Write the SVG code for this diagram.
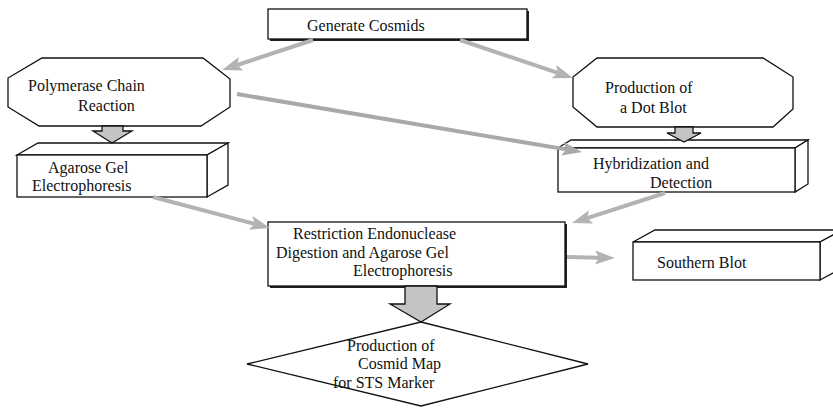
<svg xmlns="http://www.w3.org/2000/svg" width="833" height="408" viewBox="0 0 833 408">
<style>
.s{fill:#fff;stroke:#111;stroke-width:1.3;stroke-linejoin:miter}
.b{fill:#c4c4c4;stroke:#111;stroke-width:1.3}
.l{stroke:#b3b3b3;stroke-width:4;fill:none}
.hd{fill:#b3b3b3;stroke:none}
</style>
<rect width="833" height="408" fill="#fff"/>
<g font-family="Liberation Serif, Times New Roman, DejaVu Serif, serif" font-size="16" fill="#111">
<g id="generate">
<rect x="270" y="11" width="259" height="30" fill="#222"/>
<rect class="s" x="268" y="9" width="259" height="30"/>
<text x="307" y="31">Generate Cosmids</text>
</g>
<g id="pcr">
<polygon class="s" points="42,58 203,58 230,79 230,107 201,126 39,126 8,107 8,78"/>
<text x="28" y="91">Polymerase Chain</text>
<text x="78" y="111">Reaction</text>
</g>
<g id="dotblot">
<polygon class="s" points="597,58 763,58 793,77 793,109 773,127 597,127 573,107 573,77"/>
<text x="605" y="93">Production of</text>
<text x="620" y="113">a Dot Blot</text>
</g>
<g id="agarose">
<polygon class="s" points="17,155 38,143 228,143 207,155"/>
<polygon class="s" points="207,155 228,143 228,185 207,197"/>
<rect class="s" x="17" y="155" width="190" height="42"/>
<text x="48" y="173">Agarose Gel</text>
<text x="32" y="191">Electrophoresis</text>
</g>
<g id="hybridization">
<polygon class="s" points="558,148 571,140 808,140 795,148"/>
<polygon class="s" points="795,148 808,140 808,184 795,192"/>
<rect class="s" x="558" y="148" width="237" height="44"/>
<text x="593" y="169">Hybridization and</text>
<text x="650" y="188">Detection</text>
</g>
<g id="restriction">
<rect x="270" y="224" width="297" height="64" fill="#222"/>
<rect class="s" x="268" y="222" width="297" height="64"/>
<text x="293" y="239">Restriction Endonuclease</text>
<text x="276" y="258">Digestion and Agarose Gel</text>
<text x="353" y="276">Electrophoresis</text>
</g>
<g id="southern">
<polygon class="s" points="633,242 655,230 842,230 820,242"/>
<polygon class="s" points="820,242 842,230 842,268 820,280"/>
<rect class="s" x="633" y="242" width="187" height="38"/>
<text x="657" y="268">Southern Blot</text>
</g>
<g id="cosmidmap">
<polygon class="s" points="421,322 588,364 421,406 247,364"/>
<text x="347" y="351">Production of</text>
<text x="358" y="369">Cosmid Map</text>
<text x="333" y="388">for STS Marker</text>
</g>
</g>
<g id="connectors">
<line class="l" x1="313" y1="40" x2="237.2" y2="65"/>
<polygon class="hd" points="222,70 238.8,57.1 237.2,65 243.2,70.4"/>
<line class="l" x1="460" y1="40" x2="557.8" y2="72.9"/>
<polygon class="hd" points="573,78 551.8,78.3 557.8,72.9 556.3,65"/>
<line class="l" x1="237" y1="94" x2="566.2" y2="149.4" style="stroke:#a9a9a9"/>
<polygon class="hd" points="582,152 561.1,155.6 566.2,149.4 563.4,141.8" style="fill:#a9a9a9"/>
<line class="l" x1="153" y1="197" x2="254.5" y2="223.9"/>
<polygon class="hd" points="270,228 248.9,229.7 254.5,223.9 252.5,216.1"/>
<line class="l" x1="665" y1="193" x2="587.2" y2="218.1"/>
<polygon class="hd" points="572,223 588.9,210.2 587.2,218.1 593.2,223.5"/>
<line class="l" x1="567" y1="257" x2="599" y2="257.7"/>
<polygon class="hd" points="615,258 594.9,264.6 599,257.7 595.2,250.6"/>
<polygon class="b" points="102,126 123,126 123,131 132,131 112,143 93,131 102,131"/>
<polygon class="b" points="675,127 693,127 693,133 701,133 684,142 667,133 675,133"/>
<polygon class="b" points="405,286 437,286 437,304 450,304 421,322 390,304 405,304"/>
</g>
</svg>
